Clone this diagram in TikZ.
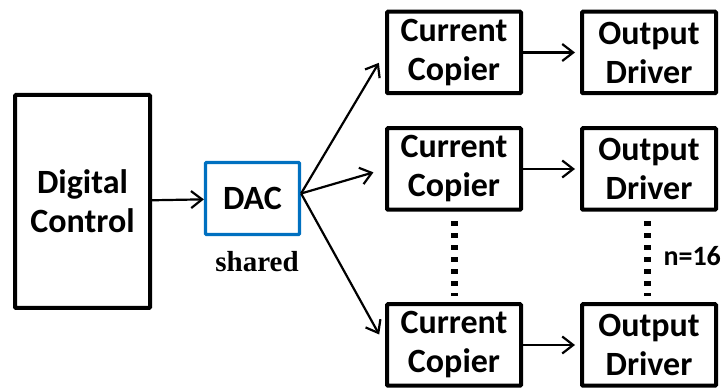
\documentclass[tikz,border=0pt]{standalone}
\usepackage{fontspec}
\setmainfont{Carlito}
\newfontfamily\timesbf{Liberation Serif}
\usepackage{tikz}
\usetikzlibrary{arrows.meta}
\usetikzlibrary{positioning}

\definecolor{dacblue}{RGB}{0,112,192}

\tikzset{
  blk/.style={draw=black, line width=4pt, rounded corners=1pt, inner sep=0pt,
    align=center, font=\bfseries\fontsize{34}{39}\selectfont,
    minimum width=134pt, minimum height=81.5pt},
  dacblk/.style={blk, draw=dacblue, line width=3.2pt, minimum width=94pt, minimum height=72pt},
  arr/.style={line width=2.2pt, -{Straight Barb[length=11pt,width=17pt]}},
  dots/.style={line width=7pt, dash pattern=on 5pt off 7pt}
}

\begin{document}
\begin{tikzpicture}[x=1pt,y=-1pt]
  \useasboundingbox (0,0) rectangle (724,390);

  \node[blk, minimum width=135pt, minimum height=213pt] (dc) at (82.5,201.5) {Digital\\Control};
  \node[dacblk] (dac) at (252.5,198.5) {DAC};
  \node[font=\timesbf\bfseries\fontsize{29}{32}\selectfont] (shared) at (257,262) {shared};

  \draw[arr] (dc) -- (dac);

  % one row per copier / driver pair
  \foreach \i/\y in {1/52.5,2/169,3/345}{
    \node[blk] (cc\i) at (454,\y) {Current\\Copier};
    \node[blk] (od\i) at (649,\y) {Output\\Driver};
    \draw[arr, shorten >=5pt] (cc\i) -- (od\i);
    \draw[arr, shorten >=12pt] ([yshift=5pt]dac.east) -- (cc\i.west);
  }

  \draw[dots, shorten <=9.5pt, shorten >=6.5pt] (cc2.south) -- (cc3.north);
  \draw[dots, shorten <=9.5pt, shorten >=6.5pt] ([xshift=-2pt]od2.south) -- ([xshift=-2pt]od3.north);

  \node[font=\bfseries\fontsize{28}{32}\selectfont, anchor=west] (n) at (660,256) {n=16};

\end{tikzpicture}
\end{document}
